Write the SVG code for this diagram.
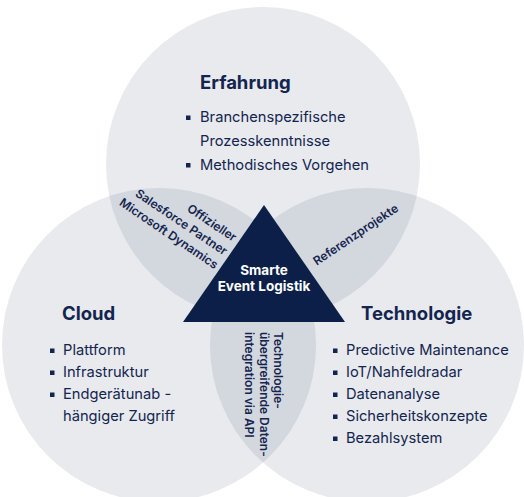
<svg xmlns="http://www.w3.org/2000/svg" width="524" height="497" viewBox="0 0 524 497">
<style>
.c{fill:#1b2d5c;fill-opacity:0.1}
.t{font-family:Inter,"Liberation Sans",sans-serif;fill:#13254f}
.h{font-size:18.5px;font-weight:700}
.b{font-size:14.7px}
.r{font-size:12px;font-weight:600}
.w{font-family:Inter,"Liberation Sans",sans-serif;fill:#ffffff;font-size:13.5px;font-weight:700}
.sq{fill:#13254f}
</style>
<rect width="524" height="497" fill="#ffffff"/>
<g id="circles">
<circle id="erfahrung-circle" class="c" cx="263" cy="164" r="157"/>
<circle id="cloud-circle" class="c" cx="159" cy="345" r="157"/>
<circle id="technologie-circle" class="c" cx="367" cy="345" r="157"/>
</g>
<g id="erfahrung">
<text class="t h" x="200" y="89">Erfahrung</text>
<rect class="sq" x="186" y="115.5" width="4.5" height="4.5"/>
<text class="t b" x="200" y="122">Branchenspezifische</text>
<text class="t b" x="200" y="145.5">Prozesskenntnisse</text>
<rect class="sq" x="186" y="163" width="4.5" height="4.5"/>
<text class="t b" x="200" y="169.5">Methodisches Vorgehen</text>
</g>
<g id="cloud">
<text class="t h" x="62" y="320">Cloud</text>
<rect class="sq" x="50" y="348.5" width="4.5" height="4.5"/>
<text class="t b" x="63" y="355">Plattform</text>
<rect class="sq" x="50" y="370.5" width="4.5" height="4.5"/>
<text class="t b" x="63" y="377">Infrastruktur</text>
<rect class="sq" x="50" y="392.5" width="4.5" height="4.5"/>
<text class="t b" x="63" y="399">Endgerätunab -</text>
<text class="t b" x="63" y="421">hängiger Zugriff</text>
</g>
<g id="technologie">
<text class="t h" x="361" y="320">Technologie</text>
<rect class="sq" x="333" y="348.5" width="4.5" height="4.5"/>
<text class="t b" x="346" y="355">Predictive Maintenance</text>
<rect class="sq" x="333" y="370.5" width="4.5" height="4.5"/>
<text class="t b" x="346" y="377">IoT/Nahfeldradar</text>
<rect class="sq" x="333" y="392.5" width="4.5" height="4.5"/>
<text class="t b" x="346" y="399">Datenanalyse</text>
<rect class="sq" x="333" y="414.5" width="4.5" height="4.5"/>
<text class="t b" x="346" y="421">Sicherheitskonzepte</text>
<rect class="sq" x="333" y="436.5" width="4.5" height="4.5"/>
<text class="t b" x="346" y="443">Bezahlsystem</text>
</g>
<g id="overlap-erfahrung-cloud" transform="translate(233,242) rotate(34)">
<text class="t r" x="0" y="0" text-anchor="end">Offizieller</text>
<text class="t r" x="0" y="16.5" text-anchor="end">Salesforce Partner</text>
<text class="t r" x="0" y="33" text-anchor="end">Microsoft Dynamics</text>
</g>
<g id="overlap-erfahrung-technologie" transform="translate(358,238) rotate(-34)">
<text class="t r" x="0" y="0" text-anchor="middle">Referenzprojekte</text>
</g>
<g id="overlap-cloud-technologie" transform="translate(274,332) rotate(90)">
<text class="t r" x="0" y="0">Technologie-</text>
<text class="t r" x="0" y="14.5">übergreifende Daten-</text>
<text class="t r" x="0" y="29">integration via API</text>
</g>
<g id="center">
<polygon points="264,205 345,322 183,322" fill="#0c1f48"/>
<text class="w" x="264" y="275" text-anchor="middle">Smarte</text>
<text class="w" x="264" y="291" text-anchor="middle">Event Logistik</text>
</g>
<g id="connectors"></g>
</svg>
